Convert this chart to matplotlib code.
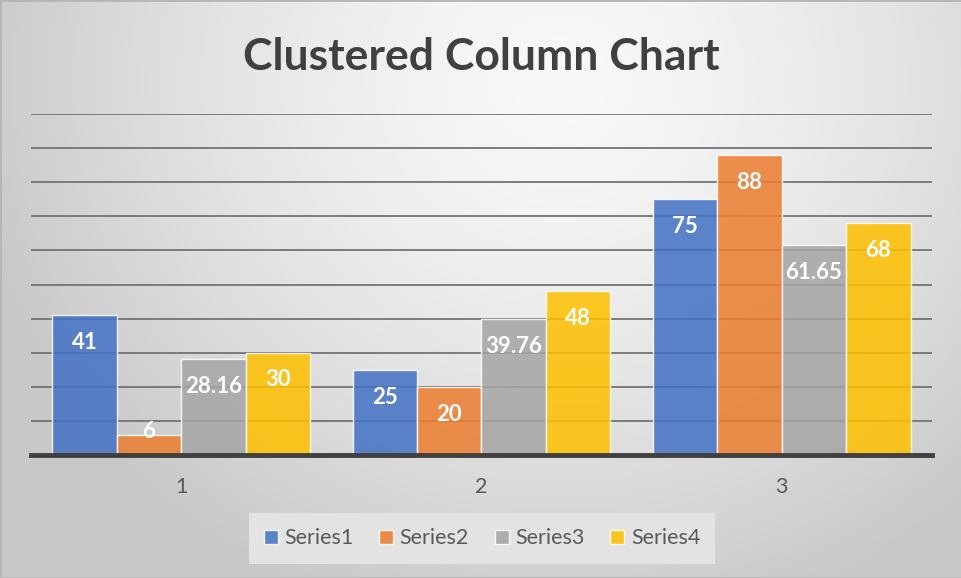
import numpy as np
import matplotlib.pyplot as plt
from matplotlib.patches import Patch, Rectangle

categories = ['1', '2', '3']
series_names = ['Series1', 'Series2', 'Series3', 'Series4']
series1 = [41, 25, 75]
series2 = [6, 20, 88]
series3 = [28.16, 39.76, 61.65]
series4 = [30, 48, 68]
colors = ['#4472C4', '#ED7D31', '#A5A5A5', '#FFC000']

plt.rcParams['font.family'] = ['Lato', 'DejaVu Sans']

W, H = 962, 578
fig = plt.figure(figsize=(W / 100, H / 100), dpi=100)

# radial grey background
bg = fig.add_axes([0, 0, 1, 1], zorder=-10)
yy, xx = np.mgrid[0:H, 0:W]
d = np.sqrt(((xx - 560) / 600.0) ** 2 + ((yy - 80) / 560.0) ** 2)
t = np.clip(d, 0, 1) ** 1.5
shade = 0.973 - (0.973 - 0.785) * t
bg.imshow(np.dstack([shade, shade, shade]), aspect='auto', extent=(0, 1, 0, 1))
bg.add_patch(Rectangle((0, 0), 1, 1, fill=False, edgecolor='#b5b5b5', lw=2,
                       transform=bg.transAxes))
bg.set_axis_off()

ax = fig.add_axes([31 / W, 1 - 455 / H, 901 / W, (455 - 114) / H])
ax.patch.set_alpha(0)

all_series = [series1, series2, series3, series4]
x = np.arange(len(categories))
width = 0.2145
for i, (vals, name, c) in enumerate(zip(all_series, series_names, colors)):
    pos = x + (i - 1.5) * width
    ax.bar(pos, vals, width, color=c, alpha=0.86, edgecolor=(1, 1, 1, 0.6),
           linewidth=1, label=name, zorder=3)
    for p, v in zip(pos, vals):
        ax.text(p, max(v - 8, 7), f'{v:g}', ha='center', va='center',
                color='white', fontsize=16, fontweight='bold', zorder=4)

ax.set_xlim(-0.5, 2.5)
ax.set_ylim(0, 100)
ax.set_yticks(np.arange(10, 101, 10))
ax.yaxis.grid(True, color=(0.45, 0.45, 0.45, 0.32), lw=1.3, zorder=1)
ax.set_xticks(x)
ax.set_xticklabels(categories, color='#595959', fontsize=15.5)
ax.tick_params(axis='x', length=0, pad=16)
ax.tick_params(axis='y', length=0, labelleft=False)
for s in ['left', 'right', 'top']:
    ax.spines[s].set_visible(False)
ax.spines['bottom'].set_color('#404040')
ax.spines['bottom'].set_linewidth(3.5)
ax.spines['bottom'].set_zorder(5)

fig.text(0.5005, 1 - 70 / H, 'Clustered Column Chart', ha='center',
         va='baseline', fontsize=32, fontweight='bold', color='#404040')

handles = [Patch(facecolor=c, alpha=0.86, edgecolor=(1, 1, 1, 0.6))
           for c in colors]
leg = fig.legend(handles, series_names, loc='center', ncol=4,
                 bbox_to_anchor=(482 / W, 1 - 538.5 / H), fontsize=15.5,
                 frameon=True, fancybox=False, handlelength=0.65,
                 handleheight=0.65, handletextpad=0.3, columnspacing=1.2,
                 borderpad=0.7, labelcolor='#595959')
leg.get_frame().set_facecolor('#e3e3e3')
leg.get_frame().set_edgecolor('none')
leg.get_frame().set_alpha(1)

fig.savefig('out.png', dpi=100)
